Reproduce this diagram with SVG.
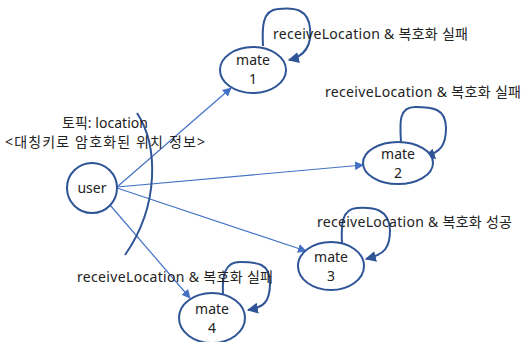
<svg xmlns="http://www.w3.org/2000/svg" width="523" height="342" viewBox="0 0 523 342">
<style>
.node{fill:#fff;stroke:#2F5597;stroke-width:2}
.t{font-family:"Noto Sans","Noto Sans CJK KR",sans-serif;font-size:14px;fill:#222}
.c{text-anchor:middle}
.edge{fill:none;stroke:#4472C4;stroke-width:1.2}
.loop{fill:none;stroke:#2F5597;stroke-width:2}
</style>
<defs>
<marker id="a" viewBox="0 0 10 10" refX="9" refY="5" markerWidth="9" markerHeight="9" markerUnits="userSpaceOnUse" orient="auto"><path d="M0,0L10,5L0,10z" fill="#4472C4"/></marker>
<marker id="b" viewBox="0 0 10 10" refX="9" refY="5" markerWidth="11" markerHeight="11" markerUnits="userSpaceOnUse" orient="auto"><path d="M0,0L10,5L0,10z" fill="#2F5597"/></marker>
</defs>
<rect width="523" height="342" fill="#fff"/>
<g id="connectors">
<line class="edge" x1="117" y1="187" x2="231" y2="88" marker-end="url(#a)"/>
<line class="edge" x1="117" y1="187" x2="363" y2="165" marker-end="url(#a)"/>
<line class="edge" x1="117" y1="188" x2="306" y2="251" marker-end="url(#a)"/>
<line class="edge" x1="110" y1="205" x2="190" y2="298" marker-end="url(#a)"/>
<path class="loop" d="M263,46 C262,28 262,10 278,9 C296,7 308,10 310,28 C312,46 305,56 289,60" marker-end="url(#b)"/>
<path class="loop" d="M401,142 C400,124 398,107 415,107 C432,107 446,108 446,128 C446,146 440,152 425,157" marker-end="url(#b)"/>
<path class="loop" d="M342,243 C341,224 342,209 357,208 C374,207 389,209 390,230 C390,248 385,254 366,259" marker-end="url(#b)"/>
<path class="loop" d="M223,294 C222,275 225,262 240,262 C257,262 270,263 270,283 C270,302 264,307 248,310" marker-end="url(#b)"/>
<path class="loop" d="M137,113 C158,145 160,205 125,255"/>
</g>
<g id="user"><circle class="node" cx="92" cy="188" r="25"/><text class="t c" x="92" y="193">user</text></g>
<g id="mate1"><ellipse class="node" cx="253" cy="70" rx="33" ry="23"/><text class="t c" x="253" y="65">mate</text><text class="t c" x="253" y="84">1</text></g>
<g id="mate2"><ellipse class="node" cx="398" cy="163" rx="35" ry="21"/><text class="t c" x="398" y="159">mate</text><text class="t c" x="398" y="178">2</text></g>
<g id="mate3"><ellipse class="node" cx="331" cy="266" rx="33" ry="24"/><text class="t c" x="331" y="262">mate</text><text class="t c" x="331" y="281">3</text></g>
<g id="mate4"><ellipse class="node" cx="212" cy="318" rx="33" ry="25"/><text class="t c" x="212" y="314">mate</text><text class="t c" x="212" y="333">4</text></g>
<g id="labels">
<text class="t" x="273" y="39" textLength="195">receiveLocation &amp; 복호화 실패</text>
<text class="t" x="325" y="97" textLength="196">receiveLocation &amp; 복호화 실패</text>
<text class="t" x="317" y="227" textLength="195">receiveLocation &amp; 복호화 성공</text>
<text class="t" x="77" y="282" textLength="196">receiveLocation &amp; 복호화 실패</text>
<text class="t" x="62" y="128" textLength="86">토픽: location</text>
<text class="t" x="5" y="147" textLength="200">&lt;대칭키로 암호화된 위치 정보&gt;</text>
</g>
</svg>
